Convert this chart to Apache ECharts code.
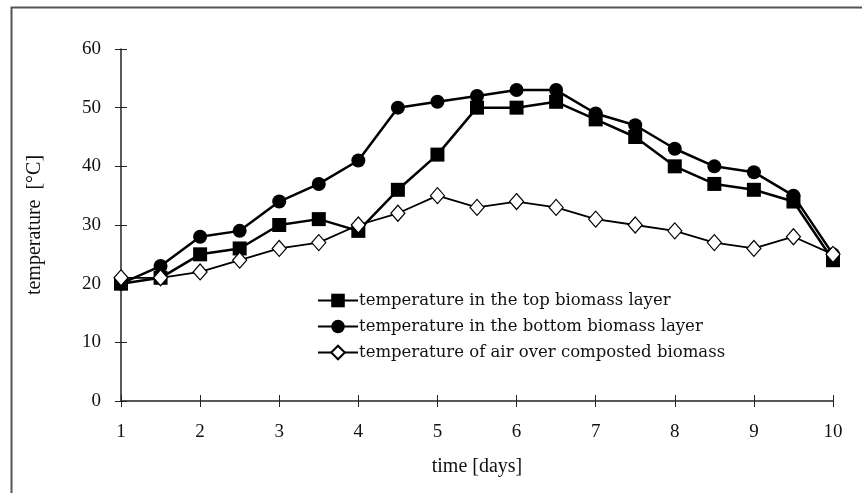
<!DOCTYPE html>
<html>
<head>
<meta charset="utf-8">
<script src="https://cdn.jsdelivr.net/npm/echarts@6/dist/echarts.min.js"></script>
<style>
  html, body { margin: 0; padding: 0; background: #fff; }
  #chart { width: 862px; height: 493px; }
</style>
</head>
<body>
<div id="chart"></div>
<script>
// time in days
var days = [1, 1.5, 2, 2.5, 3, 3.5, 4, 4.5, 5, 5.5, 6, 6.5, 7, 7.5, 8, 8.5, 9, 9.5, 10];
// temperatures [°C]
var topLayer    = [20, 21, 25, 26, 30, 31, 29, 36, 42, 50, 50, 51, 48, 45, 40, 37, 36, 34, 24];
var bottomLayer = [20, 23, 28, 29, 34, 37, 41, 50, 51, 52, 53, 53, 49, 47, 43, 40, 39, 35, 25];
var airOver     = [21, 21, 22, 24, 26, 27, 30, 32, 35, 33, 34, 33, 31, 30, 29, 27, 26, 28, 25];

var seriesNames = [
  'temperature in the top biomass layer',
  'temperature in the bottom biomass layer',
  'temperature of air over composted biomass'
];

function pairs(vals) {
  return days.map(function (d, i) { return [d, vals[i]]; });
}

var font = 'Liberation Serif';
var chart = echarts.init(document.getElementById('chart'));

var option = {
  backgroundColor: '#fff',
  animation: false,
  textStyle: { fontFamily: font, color: '#111' },
  graphic: [{
    type: 'rect',
    left: 9, top: 5,
    shape: { width: 900, height: 600 },
    style: { fill: 'none', stroke: '#555', lineWidth: 2 },
    silent: true
  }],
  grid: { left: 121, right: 29, top: 49, bottom: 92 },
  legend: {
    orient: 'vertical',
    left: 312, top: 287,
    itemWidth: 40, itemHeight: 17,
    itemGap: 9,
    textStyle: { fontFamily: 'DejaVu Serif', fontSize: 16.5, color: '#111', padding: [0, 0, 0, -4] },
    data: seriesNames
  },
  xAxis: [{
    type: 'value', min: 1, max: 10, interval: 1,
    name: 'time [days]', nameLocation: 'middle', nameGap: 56,
    nameTextStyle: { fontFamily: font, fontSize: 20, color: '#111' },
    axisLine: { onZero: false, lineStyle: { color: '#222', width: 1.5 } },
    axisTick: { length: 6, lineStyle: { color: '#222' } },
    axisLabel: { fontFamily: font, fontSize: 19, color: '#111', margin: 22 },
    splitLine: { show: false }
  }, {
    type: 'value', min: 1, max: 10, interval: 1, position: 'bottom',
    axisLine: { show: false },
    axisTick: { inside: true, length: 6, lineStyle: { color: '#222' } },
    axisLabel: { show: false },
    splitLine: { show: false }
  }],
  yAxis: [{
    type: 'value', min: 0, max: 60, interval: 10,
    name: 'temperature  [°C]', nameLocation: 'middle', nameGap: 76, nameRotate: 90,
    nameTextStyle: { fontFamily: font, fontSize: 20, color: '#111' },
    axisLine: { show: true, onZero: false, lineStyle: { color: '#222', width: 1.5 } },
    axisTick: { show: true, length: 6, lineStyle: { color: '#222' } },
    axisLabel: { fontFamily: font, fontSize: 19, color: '#111', margin: 20 },
    splitLine: { show: false }
  }, {
    type: 'value', min: 0, max: 60, interval: 10, position: 'left',
    axisLine: { show: false },
    axisTick: { show: true, inside: true, length: 6, lineStyle: { color: '#222' } },
    axisLabel: { show: false },
    splitLine: { show: false }
  }],
  series: [{
    name: seriesNames[0],
    type: 'line',
    data: pairs(topLayer),
    symbol: 'rect', symbolSize: 14,
    itemStyle: { color: '#000' },
    lineStyle: { color: '#000', width: 2.5 },
    z: 3
  }, {
    name: seriesNames[1],
    type: 'line',
    data: pairs(bottomLayer),
    symbol: 'circle', symbolSize: 14,
    itemStyle: { color: '#000' },
    lineStyle: { color: '#000', width: 2.5 },
    z: 2
  }, {
    name: seriesNames[2],
    type: 'line',
    data: pairs(airOver),
    symbol: 'diamond', symbolSize: [14, 16],
    itemStyle: { color: '#fff', borderColor: '#000', borderWidth: 1.2 },
    lineStyle: { color: '#000', width: 1.8 },
    z: 4
  }]
};

chart.setOption(option);
</script>
</body>
</html>
